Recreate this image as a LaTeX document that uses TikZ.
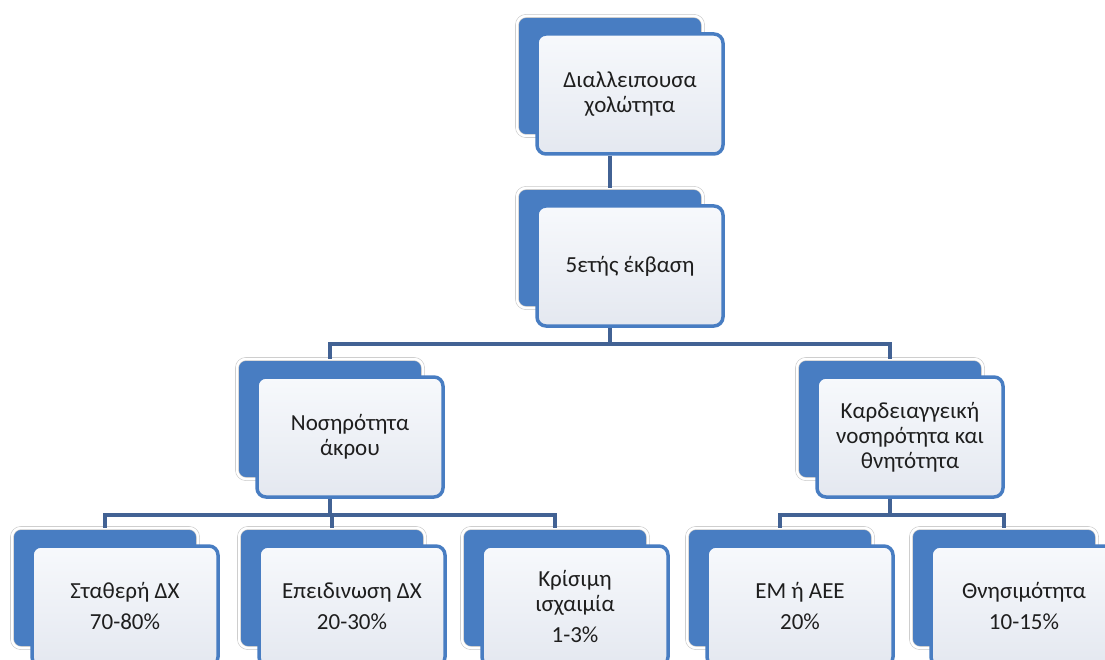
\documentclass[tikz,border=0pt]{standalone}
\usepackage{fontspec}
\setmainfont{Carlito}
\definecolor{boxblue}{RGB}{72,125,194}
\definecolor{linkblue}{RGB}{66,98,148}
\definecolor{framegray}{RGB}{200,200,200}
\definecolor{facetop}{RGB}{247,249,252}
\definecolor{facebot}{RGB}{228,232,240}
\definecolor{inkgray}{RGB}{30,30,30}
\tikzset{
  back/.style={rectangle, rounded corners=9pt, minimum width=186pt, minimum height=120pt,
    fill=boxblue, draw=framegray, double=white, double distance=2.5pt, line width=0.6pt},
  front/.style={rectangle, rounded corners=9pt, minimum width=186pt, minimum height=120pt,
    top color=facetop, bottom color=facebot, draw=boxblue, line width=3.5pt,
    align=center, text=inkgray, font=\fontsize{23}{25}\selectfont},
  link/.style={draw=linkblue, line width=4pt}
}

\begin{document}
\begin{tikzpicture}[x=1pt,y=-1pt]
 \clip (0,0) rectangle (1105,660);
 \node[back] (top) at (610,76) {};
 \node[front] (top-f) at ([shift={(20,18)}]top.center) {Διαλλειπουσα\\χολώτητα};
 \node[back] (mid) at (610,248) {};
 \node[front] (mid-f) at ([shift={(20,18)}]mid.center) {5ετής έκβαση};
 \node[back] (limb) at (330,419) {};
 \node[front] (limb-f) at ([shift={(20,18)}]limb.center) {Νοσηρότητα\\άκρου};
 \node[back] (cardio) at (890,419) {};
 \node[front] (cardio-f) at ([shift={(20,18)}]cardio.center) {Καρδειαγγεική\\νοσηρότητα και\\θνητότητα};
 \node[back] (stable) at (105,588) {};
 \node[front] (stable-f) at ([shift={(20,18)}]stable.center) {Σταθερή ΔΧ\\[6pt]70-80\%};
 \node[back] (worse) at (332,588) {};
 \node[front] (worse-f) at ([shift={(20,18)}]worse.center) {Επειδινωση ΔΧ\\[6pt]20-30\%};
 \node[back] (crit) at (555,588) {};
 \node[front] (crit-f) at ([shift={(20,18)}]crit.center) {Κρίσιμη\\ισχαιμία\\[6pt]1-3\%};
 \node[back] (mi) at (780,588) {};
 \node[front] (mi-f) at ([shift={(20,18)}]mi.center) {ΕΜ ή ΑΕΕ\\[6pt]20\%};
 \node[back] (death) at (1004,588) {};
 \node[front] (death-f) at ([shift={(20,18)}]death.center) {Θνησιμότητα\\[6pt]10-15\%};
 \draw[link] (top-f.south -| top.center) -- (mid.north);
 \draw[link] (mid-f.south -| mid.center) -- ++(0,16) -| (limb.north);
 \draw[link] (mid-f.south -| mid.center) -- ++(0,16) -| (cardio.north);
 \draw[link] (limb-f.south -| limb.center) -- ++(0,16) -| (stable.north);
 \draw[link] (limb-f.south -| limb.center) -- ++(0,16) -| (worse.north);
 \draw[link] (limb-f.south -| limb.center) -- ++(0,16) -| (crit.north);
 \draw[link] (cardio-f.south -| cardio.center) -- ++(0,16) -| (mi.north);
 \draw[link] (cardio-f.south -| cardio.center) -- ++(0,16) -| (death.north);
\end{tikzpicture}
\end{document}
